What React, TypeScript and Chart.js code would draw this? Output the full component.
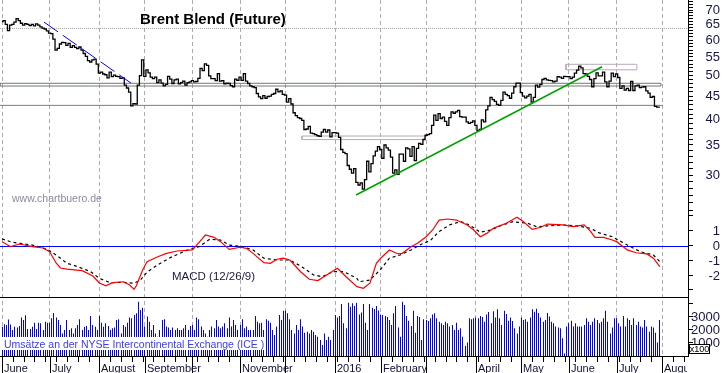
import React, { useEffect, useRef } from "react";
import { Chart, registerables, BarController, BarElement } from "chart.js";

// crisp 1px volume bars: snap each bar to the pixel grid before drawing
class CrispBarElement extends BarElement {
  draw(ctx: CanvasRenderingContext2D) {
    const self = this as any;
    const x = self.x;
    self.x = Math.round(x - 0.5) + 0.5;
    super.draw(ctx);
    self.x = x;
  }
}
(CrispBarElement as any).id = "crispBar";
class CrispBarController extends BarController {}
(CrispBarController as any).id = "crispBar";
(CrispBarController as any).defaults = { ...(BarController as any).defaults, dataElementType: "crispBar" };
Chart.register(...registerables, CrispBarElement as any, CrispBarController as any);

// ---------- DATA (trading-day index 0 = 1 June 2015) ----------
const closes = [
  // June 2015
  66.0, 66.3, 65.0, 63.0, 64.8, 65.0, 65.8, 67.0, 66.3, 65.4, 64.8, 65.3, 65.0, 64.6, 65.0, 64.5, 65.2, 64.8, 64.2, 63.8, 63.5, 62.9,
  // July
  62.2, 62.0, 60.3, 57.0, 57.5, 58.8, 59.3, 59.2, 58.4, 59.0, 57.8, 58.3, 57.8, 57.4, 57.9, 57.0, 56.0, 55.2, 54.0, 53.6, 54.2, 54.4, 53.0,
  // August
  50.6, 50.9, 50.4, 50.2, 49.4, 50.9, 49.7, 50.1, 49.8, 49.7, 49.3, 49.4, 47.6, 46.9, 45.9, 42.8, 43.3, 43.2, 47.6, 50.0, 54.2,
  // September
  49.8, 51.5, 50.7, 49.6, 49.2, 49.6, 48.2, 48.9, 48.1, 47.4, 47.8, 49.8, 49.1, 48.0, 48.9, 49.1, 47.9, 48.2, 48.6, 47.6, 48.2, 48.4,
  // October
  48.7, 48.4, 48.5, 49.3, 51.9, 51.3, 53.1, 52.7, 49.9, 49.2, 49.2, 48.7, 50.5, 48.6, 48.7, 47.9, 48.1, 48.0, 47.5, 47.2, 49.1, 48.8,
  // November
  49.6, 48.8, 50.5, 48.6, 48.0, 47.4, 47.2, 47.0, 45.6, 44.8, 44.4, 45.1, 44.5, 44.9, 45.0, 45.4, 45.6, 46.6, 46.0, 46.2, 45.4,
  // December
  45.2, 43.6, 44.4, 43.2, 41.3, 40.7, 40.3, 40.1, 39.7, 37.9, 38.0, 38.5, 37.2, 37.1, 36.9, 36.7, 36.6, 37.4, 37.9, 37.4, 37.8, 36.5, 37.3,
  // January 2016
  37.3, 37.2, 36.4, 34.2, 33.7, 33.5, 31.5, 30.9, 30.3, 31.0, 28.9, 28.5, 28.8, 27.9, 29.3, 32.2, 30.5, 31.8, 33.1, 33.9, 34.7,
  // February
  34.2, 32.7, 35.0, 34.5, 34.1, 32.9, 30.3, 30.8, 30.1, 33.4, 33.4, 32.2, 34.5, 34.3, 33.0, 34.7, 32.3, 34.4, 35.3, 35.1, 36.0,
  // March
  36.8, 36.9, 37.1, 38.7, 40.8, 39.7, 41.1, 40.1, 40.4, 39.5, 38.7, 40.3, 41.5, 41.2, 41.5, 41.8, 40.5, 40.4, 40.4, 39.4, 39.1, 39.3, 39.6,
  // April
  38.7, 37.7, 37.9, 39.8, 39.4, 41.9, 42.8, 44.7, 44.2, 43.8, 43.1, 42.9, 44.0, 45.9, 45.4, 45.1, 44.5, 45.7, 47.2, 48.1, 48.1,
  // May
  45.8, 45.0, 44.6, 45.0, 45.4, 43.6, 44.7, 47.6, 47.1, 47.8, 49.0, 49.3, 48.9, 48.8, 48.7, 48.4, 48.6, 49.7, 49.6, 49.3, 49.8, 49.7,
  // June
  49.7, 49.2, 49.6, 50.6, 51.4, 52.5, 52.0, 50.5, 50.4, 49.8, 49.0, 47.2, 49.2, 50.7, 49.9, 49.9, 50.9, 48.4, 47.2, 48.6, 50.6, 49.7,
  // July
  50.4, 49.5, 46.8, 47.4, 46.4, 46.8, 46.3, 48.5, 46.3, 47.4, 47.6, 47.0, 47.1, 47.2, 46.2, 45.7, 44.7, 44.9, 42.7, 42.5, 42.5,
];

// volume in units of 100 contracts
const volumes = [
  2250, 2450, 2380, 2800, 2430, 2000, 2250, 2200, 2300, 2970, 2770, 3130, 2080, 2080, 2250, 2560, 2080, 2560, 2510, 2000, 2640, 2560,
  2560, 2900, 3300, 2970, 2770, 2380, 1740, 2000, 2770, 2000, 2130, 1740, 2130, 2380, 2820, 2000, 2250, 2300, 2000, 3080, 2380, 2250, 2000,
  3080, 2560, 2250, 2510, 2300, 2000, 2130, 2200, 2770, 2820, 1740, 2380, 2250, 2560, 2970, 2900, 3150, 3280, 4180, 3540, 3720,
  2260, 3030, 2640, 2000, 2380, 1740, 1490, 2000, 2770, 2820, 2260, 2200, 2000, 2200, 2000, 2130, 2000, 2000, 2130, 2380, 2000, 2310,
  2380, 2000, 2970, 2820, 2260, 2000, 1740, 1490, 2000, 2260, 2130, 2770, 2260, 2130, 2260, 2510, 2130, 2970, 2260, 2770, 2380, 2000,
  2380, 2820, 2130, 2260, 2000, 2000, 2000, 3080, 2640, 2510, 2560, 2000, 2820, 2720, 2560, 2000, 1620, 2260, 3150, 2770, 3490,
  3490, 3280, 2820, 2000, 1740, 2380, 2000, 2820, 2260, 1790, 1870, 1740, 2000, 1870, 1620, 1490, 1230, 850, 1740, 1230, 1490, 1230, 2000,
  3150, 2970, 3080, 4000, 2510, 2130, 4100, 3790, 4050, 3850, 4100, 3200, 3340, 4000, 2560, 2000, 4000, 3720, 3610, 3850, 3500,
  3200, 3150, 3080, 3000, 2770, 2380, 3280, 3850, 2200, 1490, 4180, 3920, 3080, 2720, 2310, 3490, 1790, 3080, 3000, 1230, 2820,
  2770, 2690, 2900, 3200, 3280, 2900, 2640, 2510, 2380, 2640, 2510, 2260, 2380, 2000, 2560, 2000, 2130, 1490, 770, 1030, 2900, 2820, 2900,
  2970, 2900, 3080, 3000, 2640, 3200, 3390, 2510, 3440, 2970, 3590, 2900, 2380, 3490, 3230, 2720, 2970, 2690, 2130, 1740, 2260,
  2970, 2770, 2830, 2640, 2970, 3590, 3410, 3640, 3300, 2970, 2640, 2770, 3300, 3030, 2640, 2510, 2260, 2200, 2130, 1360, 200, 2260,
  2510, 2720, 2260, 2510, 2260, 2260, 2260, 2380, 2900, 2640, 2380, 2640, 2900, 2770, 2510, 2640, 2900, 3490, 2640, 1740, 2200, 2900,
  2900, 2510, 2260, 3080, 2260, 2900, 2770, 2380, 2900, 2380, 2640, 2260, 2200, 2770, 2260, 1870, 2260, 2200, 1790, 1030, 2770,
];

const macdIdx = [
  0, 4, 8, 14, 19, 22, 25, 27, 30, 37, 42, 45, 48, 51, 56, 59, 61, 62, 65, 67,
  72, 76, 81, 88, 92, 94, 98, 101, 105, 110, 113, 116, 121, 124, 127, 130, 133, 138, 142, 146,
  150, 155, 159, 164, 167, 170, 173, 175, 179, 183, 185, 189, 192, 196, 199, 202, 206, 210, 215, 218,
  221, 224, 227, 233, 238, 241, 245, 249, 252, 259, 264, 269, 272, 274, 278, 282, 284, 289, 293, 298, 301, 304,
];
const macdVal = [
  0.26, -0.08, 0.1, -0.08, -0.17, -0.42, -1.18, -1.52, -1.59, -1.7, -2.06, -2.53, -2.73, -2.51, -2.45, -2.67, -2.96, -2.74, -1.66, -1.09,
  -0.76, -0.53, -0.37, -0.3, 0.37, 0.71, 0.55, 0.26, -0.26, -0.12, -0.19, -0.53, -1.16, -1.2, -0.93, -0.86, -0.98, -1.77, -2.28, -2.37,
  -1.99, -1.54, -2.11, -2.78, -2.89, -2.55, -1.2, -0.86, -0.3, -0.57, -0.53, -0.08, 0.15, 0.59, 1.05, 1.72, 1.79, 1.72, 1.39, 1.05,
  0.59, 0.82, 1.16, 1.5, 1.91, 1.61, 1.09, 1.23, 1.45, 1.39, 1.27, 1.39, 0.95, 0.55, 0.55, 0.37, 0.26, -0.3, -0.49, -0.57, -0.86, -1.43,
];
const signalIdx = [
  0, 4, 8, 14, 21, 25, 30, 35, 41, 45, 50, 56, 61, 64, 67, 72, 78, 85, 91, 96,
  101, 105, 111, 116, 121, 127, 133, 138, 144, 148, 153, 158, 164, 165, 170, 175, 179, 184, 189, 193,
  198, 202, 207, 212, 216, 221, 226, 230, 236, 243, 247, 252, 259, 266, 272, 276, 282, 289, 295, 301, 304,
];
const signalVal = [
  0.45, 0.25, 0.15, 0.03, -0.26, -0.64, -1.2, -1.43, -1.77, -2.22, -2.51, -2.49, -2.55, -2.33, -1.8, -1.3, -0.8, -0.35, -0.08, 0.42,
  0.37, 0.03, -0.08, -0.3, -0.86, -0.98, -0.98, -1.39, -1.99, -2.11, -1.77, -1.77, -2.22, -2.45, -2.33, -1.61, -0.86, -0.64, -0.3, 0.03,
  0.35, 0.95, 1.4, 1.62, 1.39, 0.9, 1.05, 1.32, 1.61, 1.5, 1.27, 1.32, 1.39, 1.32, 1.16, 0.85, 0.59, 0.03, -0.42, -0.64, -1.09,
];

// chart annotations (data coordinates: trading-day index / price)
const blueTrendIdx = [19.4, 59.6];
const blueTrendPrice = [65.8, 48.1];
const greenTrendIdx = [163.6, 277.3];
const greenTrendPrice = [27.07, 52.3];
const resistanceIdx = [-1, 318];
const resistancePrice = 63.7;
const bandIdx = [-1, 304.5];
const bandPrice = [47.38, 48.05];
const supportIdx = [-1, 305.5];
const supportPrice = 42.9;
const box1Idx = [138.6, 195.5];
const box1Price = [35.99, 36.65];
const box2Idx = [260.6, 293.4];
const box2Price = [51.5, 52.97];

// axis ticks / labels
const monthIdx = [0, 22, 45, 66, 88, 110, 131, 154, 175, 196, 219, 240, 262, 284, 305];
const monthLabels = ["June", "July", "August", "September", "", "November", "", "2016", "February", "", "April", "May", "June", "July", "August"];
const weekIdx = [0, 5, 10, 15, 20, 25, 30, 35, 40, 45, 50, 55, 60, 65, 70, 75, 80, 85, 90, 95, 100, 105, 110, 115, 120, 125, 130, 135, 140, 145, 150, 155, 160, 165, 170, 175, 180, 185, 190, 195, 200, 205, 210, 215, 220, 225, 230, 235, 240, 245, 250, 255, 260, 265, 270, 275, 280, 285, 290, 295, 300, 305, 310, 315];
const priceTicks = [25, 26, 27, 28, 29, 30, 31, 32, 33, 34, 35, 36, 37, 38, 39, 40, 41, 42, 43, 44, 45, 46, 47, 48, 49, 50, 51, 52, 53, 54, 55, 56, 57, 58, 59, 60, 61, 62, 63, 64, 65, 66, 67, 68, 69, 70, 71, 72, 73];
const priceLabels = [30, 35, 40, 45, 50, 55, 60, 65, 70];
const macdTicks = [-3, -2, -1, 0, 1, 2];
const macdLabels = [1, 0, -1, -2];
const volTicks = [1000, 2000, 3000, 4000];
const volLabels = [3000, 2000, 1000];

const TITLE = "Brent Blend (Future)";
const WATERMARK = "www.chartbuero.de";
const MACD_LABEL = "MACD (12/26/9)";
const VOL_LABEL = "Umsätze an der NYSE Intercontinental Exchange (ICE )";
const VOL_UNIT = "x100";

const FONT = '"Liberation Sans", Arial, sans-serif';

export default function App() {
  const ref = useRef<HTMLCanvasElement>(null);

  useEffect(() => {
    document.body.style.margin = "0";
    const canvas = ref.current!;
    const pts = (xs: number[], ys: number[]) => xs.map((x, i) => ({ x, y: ys[i] }));
    const rect = (xs: number[], ys: number[]) => [
      { x: xs[0], y: ys[0] }, { x: xs[1], y: ys[0] }, { x: xs[1], y: ys[1] }, { x: xs[0], y: ys[1] }, { x: xs[0], y: ys[0] },
    ];
    const line = (data: any[], color: string, width: number, yAxisID: string, extra: any = {}) => ({
      type: "line", data, borderColor: color, borderWidth: width, pointRadius: 0, fill: false, tension: 0,
      xAxisID: "x", yAxisID, ...extra,
    });

    const decor = {
      id: "decor",
      beforeDatasetsDraw(chart: any) {
        const { ctx, chartArea: a, scales } = chart;
        ctx.save();
        const z = Math.round(scales.yM.getPixelForValue(0)) + 0.5;
        ctx.strokeStyle = "#0000ff";
        ctx.lineWidth = 1;
        ctx.beginPath(); ctx.moveTo(a.left, z); ctx.lineTo(a.right, z); ctx.stroke();
        ctx.restore();
      },
      afterDatasetsDraw(chart: any) {
        const { ctx, chartArea: a, scales } = chart;
        const xs = scales.x;
        ctx.save();
        // separator MACD / volume
        const s = Math.round(scales.yV.top) + 0.5;
        ctx.strokeStyle = "#000"; ctx.lineWidth = 1;
        ctx.beginPath(); ctx.moveTo(a.left, s); ctx.lineTo(a.right, s); ctx.stroke();

        // titles
        ctx.textBaseline = "alphabetic"; ctx.textAlign = "left";
        ctx.fillStyle = "#000";
        ctx.font = `bold 15px ${FONT}`;
        ctx.fillText(TITLE, 140, 24);
        ctx.fillStyle = "#8a8aa2";
        ctx.font = `10.5px ${FONT}`;
        ctx.fillText(WATERMARK, 12, 202);
        ctx.fillStyle = "#1a1a40";
        ctx.font = `11.5px ${FONT}`;
        ctx.fillText(MACD_LABEL, 172, 280);
        // volume caption box
        ctx.fillStyle = "#fff";
        ctx.fillRect(0, 337, 266, 13);
        ctx.fillStyle = "#3a3aff";
        ctx.font = `10.5px ${FONT}`;
        ctx.fillText(VOL_LABEL, 4, 348);

        // x-axis tick marks
        ctx.strokeStyle = "#000"; ctx.lineWidth = 1;
        const b = a.bottom;
        ctx.beginPath();
        for (const w of weekIdx) {
          const px = Math.round(xs.getPixelForValue(w)) + 0.5;
          if (px > a.right) continue;
          ctx.moveTo(px, b); ctx.lineTo(px, b + 6);
        }
        for (const m of monthIdx) {
          const px = Math.round(xs.getPixelForValue(m)) + 0.5;
          ctx.moveTo(px, b); ctx.lineTo(px, chart.height);
        }
        ctx.stroke();
        // month labels
        ctx.save();
        ctx.beginPath(); ctx.rect(0, b, a.right - 1, 30); ctx.clip();
        ctx.fillStyle = "#101038";
        ctx.font = `11px ${FONT}`;
        monthIdx.forEach((m, i) => {
          if (!monthLabels[i]) return;
          ctx.fillText(monthLabels[i], Math.round(xs.getPixelForValue(m)) + 2, 371.5);
        });
        ctx.restore();

        // right axis labels
        ctx.fillStyle = "#16164a";
        ctx.font = `13px ${FONT}`;
        ctx.textAlign = "right"; ctx.textBaseline = "middle";
        for (const v of priceLabels) ctx.fillText(String(v), 720, scales.yP.getPixelForValue(v));
        for (const v of macdLabels) ctx.fillText(String(v), 720, scales.yM.getPixelForValue(v) + 1);
        for (const v of volLabels) ctx.fillText(String(v), 720, scales.yV.getPixelForValue(v));
        // x100 box
        ctx.fillStyle = "#fff";
        ctx.fillRect(689.5, 344.5, 20, 9);
        ctx.strokeStyle = "#000";
        ctx.strokeRect(689.5, 344.5, 20, 9);
        ctx.fillStyle = "#000";
        ctx.font = `9px ${FONT}`;
        ctx.textAlign = "center";
        ctx.fillText(VOL_UNIT, 699.5, 349.5);
        ctx.restore();
      },
    };

    const yAxisBase = {
      position: "right",
      stack: "panels",
      afterFit: (s: any) => { s.width = 35; },
      ticks: { display: false },
      grid: { drawOnChartArea: false, drawTicks: true, tickLength: 5, color: "#000", tickColor: "#000" },
      border: { display: true, color: "#000", width: 1 },
    };

    const chart = new Chart(canvas, {
      type: "line",
      data: {
        datasets: [
          line(pts(blueTrendIdx, blueTrendPrice), "#0000ff", 1, "yP", { borderDash: [17, 6] }),
          line(pts(greenTrendIdx, greenTrendPrice), "#00a000", 1.5, "yP"),
          line(closes.map((c, i) => ({ x: i, y: c })), "#000", 1.3, "yP", { stepped: "middle" }),
          line(rect(box1Idx, box1Price), "#b6abb6", 1, "yP"),
          line(rect(box2Idx, box2Price), "#b6abb6", 1, "yP"),
          line(rect(bandIdx, bandPrice), "#6e7b6e", 1, "yP"),
          line(pts(supportIdx, [supportPrice, supportPrice]), "#768276", 1, "yP"),
          line(pts(resistanceIdx, [resistancePrice, resistancePrice]), "#9a9a9a", 1, "yP", { borderDash: [1, 1] }),
          line(pts(macdIdx, macdVal), "#ff0000", 1.2, "yM"),
          line(pts(signalIdx, signalVal), "#000", 1.2, "yM", { borderDash: [3, 3] }),
          {
            type: "crispBar",
            data: volumes.map((v, i) => ({ x: i, y: v })),
            backgroundColor: "#0000ff",
            borderWidth: 0,
            inflateAmount: 0,
            barThickness: 1,
            xAxisID: "x",
            yAxisID: "yV",
          },
        ] as any,
      },
      options: {
        animation: false,
        responsive: false,
        devicePixelRatio: 1,
        events: [],
        layout: { padding: 0 },
        plugins: { legend: { display: false }, tooltip: { enabled: false }, title: { display: false } },
        scales: {
          x: {
            type: "linear",
            position: "bottom",
            offset: false,
            min: -0.93,
            max: 317,
            afterBuildTicks: (s: any) => { s.ticks = monthIdx.map((v) => ({ value: v })); },
            afterFit: (s: any) => { s.height = 17; s.paddingLeft = 0; s.paddingRight = 0; },
            ticks: { display: false },
            grid: { offset: false, drawOnChartArea: true, drawTicks: false, color: "#b3a7b7", lineWidth: 1 },
            border: { display: true, color: "#000", width: 1, dash: [4, 3] },
          },
          yP: {
            ...yAxisBase,
            type: "logarithmic",
            stackWeight: 212,
            min: 24.81,
            max: 73.7,
            afterBuildTicks: (s: any) => { s.ticks = priceTicks.map((v) => ({ value: v })); },
          },
          yM: {
            ...yAxisBase,
            type: "linear",
            stackWeight: 85,
            min: -3.48,
            max: 2.264,
            afterBuildTicks: (s: any) => { s.ticks = macdTicks.map((v) => ({ value: v })); },
          },
          yV: {
            ...yAxisBase,
            type: "linear",
            stackWeight: 59,
            min: 0,
            max: 4538,
            afterBuildTicks: (s: any) => { s.ticks = volTicks.map((v) => ({ value: v })); },
          },
        } as any,
      },
      plugins: [decor],
    } as any);
    return () => chart.destroy();
  }, []);

  return <canvas ref={ref} width={723} height={373} style={{ display: "block" }} />;
}
